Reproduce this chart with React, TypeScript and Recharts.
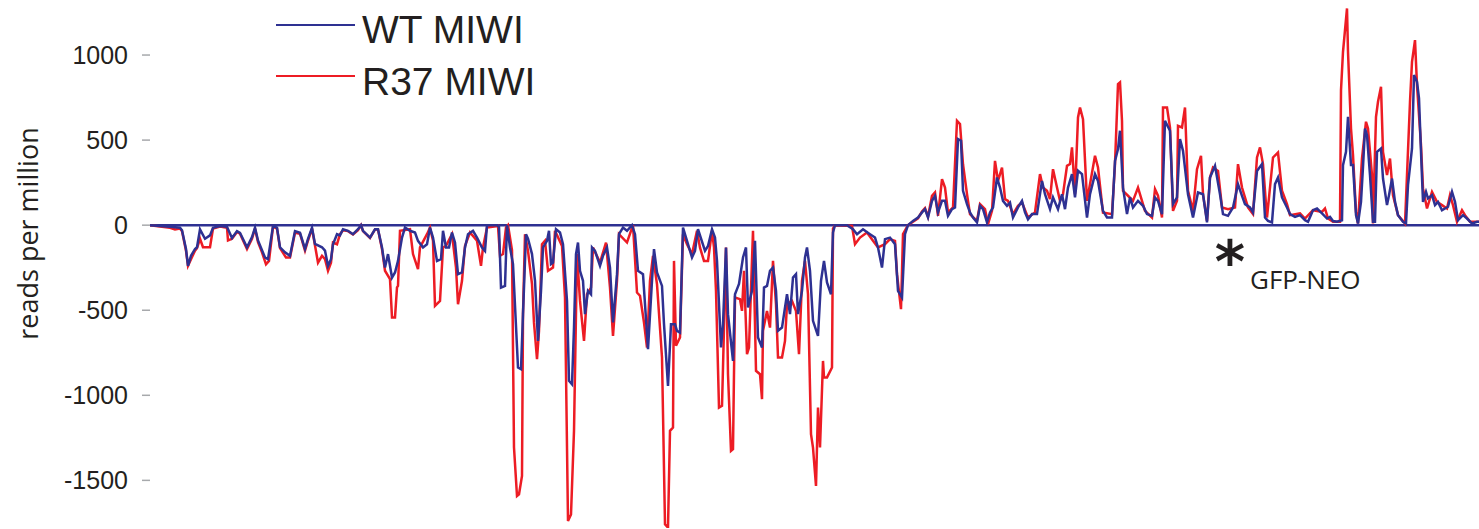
import { Legend, Line, LineChart, ReferenceLine, XAxis, YAxis } from 'recharts'

// [position bin, reads per million]; antisense reads are negative
const wtTrack: [number, number][] = [
  [150, 0], [160, -5], [170, -10], [180, -15], [182, -30], [186, -140], [188, -239], [191, -180], [195, -140], [197, -130],
  [200, -25], [205, -80], [210, -60], [213, -15], [220, -5], [227, -10], [232, -75], [237, -35], [240, -45], [247, -130],
  [252, -70], [255, -15], [258, -90], [265, -190], [268, -200], [273, -5], [277, -15], [280, -130], [285, -160], [290, -180],
  [295, -35], [300, -45], [305, -140], [308, -80], [312, -15], [315, -110], [322, -130], [325, -150], [328, -239], [331, -200],
  [333, -112], [337, -53], [340, -60], [343, -24], [348, -33], [353, -53], [358, -24], [361, 0], [363, -33], [370, -73],
  [375, -24], [378, -24], [382, -131], [385, -249], [388, -170], [392, -308], [395, -278], [398, -210], [402, -73], [405, -14],
  [410, -33], [415, -43], [418, -92], [423, -131], [427, -112], [430, -14], [433, -73], [437, -210], [441, -200], [443, -33],
  [446, -131], [449, -131], [452, -43], [455, -102], [458, -288], [462, -278], [465, -131], [468, -53], [473, -33], [477, -73],
  [482, -131], [485, -151], [487, 0], [497, 0], [499, -10], [501, -367], [505, -357], [507, 0], [510, -131], [513, -229],
  [518, -837], [521, -847], [523, -523], [526, -53], [528, -80], [532, -170], [535, -327], [538, -680], [541, -386], [543, -131],
  [547, -92], [549, -33], [551, -229], [553, -220], [556, -24], [560, -43], [563, -112], [567, -445], [569, -915], [572, -935],
  [574, -602], [576, -170], [578, -102], [580, -268], [583, -327], [585, -523], [588, -386], [591, -406], [592, -131], [595, -151],
  [600, -239], [603, -180], [607, -131], [610, -249], [613, -572], [617, -288], [619, -53], [623, -14], [627, -33], [632, 0],
  [635, -53], [638, -268], [643, -288], [648, -729], [652, -327], [654, -141], [657, -278], [662, -357], [664, -582], [668, -945],
  [671, -582], [675, -582], [677, -621], [680, -631], [683, -14], [687, -92], [692, -190], [695, -151], [698, -24], [705, -151],
  [708, -122], [712, -24], [715, -73], [717, -210], [721, -719], [723, -582], [726, -131], [728, -523], [733, -798], [735, -406],
  [737, -376], [739, -346], [743, -190], [746, -131], [748, -484], [752, -386], [755, -92], [758, -660], [762, -719], [764, -367],
  [767, -357], [770, -268], [773, -249], [776, -386], [778, -621], [782, -602], [787, -406], [790, -523], [793, -308], [796, -288],
  [798, -523], [802, -386], [805, -190], [807, -131], [810, -268], [813, -562], [818, -651], [821, -327], [824, -210], [827, -337],
  [831, -406], [833, -43], [835, 0], [847, 0], [853, -24], [857, -53], [863, -24], [870, -53], [875, -73], [878, -131],
  [882, -249], [885, -82], [890, -73], [895, -112], [898, -386], [902, -425], [905, -53], [908, 0], [913, 25], [918, 45],
  [922, 75], [925, 94], [928, 45], [932, 143], [935, 172], [938, 75], [942, 143], [945, 143], [948, 55], [952, 94],
  [955, 104], [958, 506], [961, 496], [963, 202], [967, 124], [970, 75], [973, 45], [977, 16], [980, 114], [983, 94],
  [987, 16], [990, 75], [993, 104], [997, 280], [1000, 221], [1003, 143], [1007, 114], [1010, 133], [1013, 45], [1018, 104],
  [1022, 143], [1025, 75], [1028, 35], [1032, 65], [1037, 65], [1042, 260], [1045, 182], [1050, 94], [1053, 163], [1058, 94],
  [1062, 182], [1065, 94], [1068, 221], [1072, 300], [1075, 163], [1078, 320], [1082, 300], [1087, 45], [1090, 182], [1095, 300],
  [1098, 260], [1103, 84], [1107, 45], [1112, 45], [1115, 378], [1118, 447], [1120, 555], [1123, 221], [1127, 65], [1130, 163],
  [1133, 104], [1138, 143], [1143, 114], [1147, 65], [1152, 55], [1155, 163], [1158, 143], [1162, 65], [1165, 613], [1170, 555],
  [1173, 124], [1177, 163], [1180, 506], [1183, 437], [1188, 182], [1193, 45], [1198, 192], [1203, 182], [1207, 16], [1210, 280],
  [1215, 349], [1220, 182], [1223, 65], [1228, 55], [1233, 104], [1238, 241], [1242, 172], [1245, 124], [1250, 104], [1253, 75],
  [1257, 319], [1262, 359], [1265, 45], [1268, 25], [1272, 16], [1275, 241], [1278, 280], [1282, 163], [1287, 104], [1290, 65],
  [1295, 49], [1300, 59], [1305, 29], [1308, 20], [1313, 88], [1317, 98], [1322, 69], [1327, 39], [1330, 49], [1333, 24],
  [1337, 20], [1342, 29], [1343, 353], [1346, 431], [1348, 637], [1351, 353], [1353, 353], [1356, 59], [1358, 10], [1361, 137],
  [1363, 343], [1365, 568], [1367, 529], [1370, 294], [1373, 20], [1375, 20], [1377, 431], [1381, 451], [1383, 274], [1387, 118],
  [1389, 176], [1392, 274], [1395, 137], [1398, 59], [1403, 20], [1406, 10], [1408, 235], [1412, 451], [1414, 882], [1417, 843],
  [1419, 745], [1421, 431], [1423, 137], [1426, 196], [1428, 157], [1432, 176], [1435, 118], [1438, 137], [1442, 88], [1445, 98],
  [1448, 108], [1452, 196], [1455, 137], [1458, 29], [1463, 59], [1467, 39], [1472, 10], [1477, 20], [1479, 20],
]

const r37Track: [number, number][] = [
  [150, 0], [160, -8], [170, -15], [175, -25], [180, -20], [182, -35], [186, -150], [188, -239], [191, -200], [195, -150],
  [197, -135], [200, -80], [203, -130], [210, -130], [213, -20], [220, -8], [227, -15], [228, -90], [232, -80], [237, -40],
  [240, -50], [247, -140], [252, -80], [255, -20], [258, -100], [262, -160], [266, -230], [269, -210], [273, -10], [277, -20],
  [280, -135], [286, -190], [290, -190], [295, -45], [300, -50], [305, -150], [308, -90], [312, -20], [315, -120], [318, -220],
  [322, -180], [325, -200], [328, -268], [331, -220], [333, -102], [337, -112], [340, -53], [343, -30], [348, -35], [353, -55],
  [358, -30], [361, 0], [363, -35], [370, -75], [375, -25], [378, -25], [382, -140], [385, -268], [390, -317], [392, -543],
  [395, -543], [397, -366], [398, -357], [400, -33], [410, -24], [413, -170], [418, -258], [420, -131], [427, -53], [430, -14],
  [433, -92], [435, -474], [440, -445], [443, -131], [446, -122], [452, -53], [456, -249], [458, -465], [462, -327], [465, -122],
  [470, -43], [477, -92], [481, -239], [483, -131], [487, -14], [498, -5], [500, -180], [503, -170], [506, -14], [508, 0],
  [512, -147], [514, -1307], [517, -1592], [519, -1582], [522, -1474], [523, -523], [525, -53], [528, -151], [532, -347], [534, -573],
  [537, -788], [539, -621], [542, -112], [545, -92], [548, -268], [553, -249], [555, -33], [562, -122], [565, -425], [568, -1739],
  [571, -1700], [574, -1209], [577, -170], [580, -445], [584, -680], [587, -406], [591, -367], [593, -131], [600, -220], [606, -102],
  [610, -367], [613, -651], [617, -327], [619, -53], [627, -102], [633, 0], [637, -396], [640, -415], [644, -572], [647, -719],
  [650, -327], [653, -180], [657, -347], [662, -778], [665, -1758], [668, -1778], [670, -1209], [673, -1189], [674, -210], [676, -709],
  [680, -660], [683, -53], [687, -112], [692, -170], [697, -33], [700, -132], [704, -210], [708, -210], [712, -33], [714, -131],
  [716, -386], [719, -1072], [722, -1062], [723, -837], [726, -131], [728, -876], [731, -1327], [733, -1317], [735, -425], [740, -435],
  [742, -504], [744, -268], [747, -758], [749, -719], [753, -33], [756, -856], [760, -876], [762, -1023], [763, -621], [767, -504],
  [770, -602], [773, -210], [776, -465], [778, -778], [782, -778], [785, -680], [787, -465], [792, -445], [796, -504], [799, -758],
  [802, -327], [805, -210], [808, -406], [811, -1229], [813, -1307], [816, -1533], [818, -1072], [820, -1307], [823, -798], [824, -895],
  [827, -895], [832, -837], [833, -20], [835, 0], [852, -5], [855, -112], [860, -73], [867, -43], [873, -92], [878, -131],
  [885, -112], [890, -82], [895, -92], [897, -288], [901, -494], [903, -53], [908, 0], [913, 20], [918, 40], [922, 80],
  [925, 100], [928, 50], [932, 172], [935, 192], [938, 55], [942, 270], [945, 221], [948, 75], [953, 104], [957, 613],
  [960, 594], [963, 358], [967, 182], [970, 65], [977, 25], [980, 124], [985, 94], [988, 6], [992, 84], [995, 378],
  [998, 260], [1002, 339], [1005, 153], [1008, 143], [1013, 65], [1018, 114], [1022, 133], [1028, 45], [1035, 75], [1040, 300],
  [1043, 221], [1047, 202], [1050, 153], [1053, 329], [1057, 221], [1060, 143], [1063, 182], [1067, 349], [1070, 359], [1072, 457],
  [1075, 182], [1078, 633], [1080, 692], [1083, 623], [1087, 143], [1090, 241], [1095, 408], [1098, 339], [1103, 74], [1112, 65],
  [1115, 359], [1118, 829], [1120, 839], [1122, 613], [1123, 202], [1128, 173], [1133, 143], [1138, 221], [1145, 84], [1152, 45],
  [1155, 212], [1158, 173], [1162, 45], [1163, 692], [1167, 692], [1170, 574], [1173, 84], [1177, 143], [1178, 584], [1182, 574],
  [1185, 692], [1188, 202], [1193, 84], [1197, 329], [1201, 408], [1203, 182], [1207, 25], [1210, 280], [1213, 339], [1218, 319],
  [1222, 104], [1228, 94], [1235, 104], [1238, 359], [1242, 221], [1248, 104], [1253, 65], [1257, 398], [1260, 457], [1263, 359],
  [1267, 45], [1273, 398], [1278, 427], [1282, 202], [1287, 124], [1290, 59], [1300, 69], [1305, 39], [1313, 88], [1322, 78],
  [1325, 98], [1328, 39], [1333, 20], [1340, 20], [1341, 794], [1343, 1019], [1347, 1274], [1348, 1019], [1351, 568], [1353, 412],
  [1356, 78], [1358, 10], [1362, 392], [1366, 608], [1368, 568], [1372, 294], [1373, 10], [1376, 637], [1378, 725], [1381, 813],
  [1383, 431], [1387, 294], [1390, 392], [1393, 176], [1398, 59], [1405, 10], [1407, 294], [1410, 725], [1412, 960], [1415, 1088],
  [1417, 823], [1421, 470], [1423, 216], [1427, 98], [1432, 196], [1437, 137], [1442, 118], [1447, 98], [1450, 176], [1453, 118],
  [1457, 20], [1462, 88], [1465, 59], [1470, 20], [1477, 20], [1479, 20],
]

const yTicks = [-1500, -1000, -500, 0, 500, 1000]
const xDomain: [number, number] = [150, 1479]
const yDomain: [number, number] = [-1780, 1300]

const series = [
  { name: 'WT MIWI', color: '#2e3192', track: wtTrack },
  { name: 'R37 MIWI', color: '#ed1c24', track: r37Track },
]

const toRows = (track: [number, number][]) => track.map(([pos, reads]) => ({ pos, reads }))

const sans = '"Liberation Sans", Arial, sans-serif'
const humanist = '"Open Sans", "Noto Sans", sans-serif'

function TrackLegend() {
  return (
    <div style={{ position: 'relative', width: 300, height: 110 }}>
      {series.map((s, i) => (
        <div key={s.name}>
          <div style={{ position: 'absolute', left: 0, top: 24 + i * 51, width: 79, height: 2, background: s.color }} />
          <div style={{ position: 'absolute', left: 86, top: 10 + i * 52, fontFamily: sans, fontSize: 39, lineHeight: '39px', color: '#231f20', whiteSpace: 'nowrap' }}>{s.name}</div>
        </div>
      ))}
    </div>
  )
}

export default function App() {
  return (
    <div style={{ position: 'absolute', left: 0, top: 0, width: 1479, height: 529, background: '#fff', overflow: 'hidden' }}>
      <LineChart width={1479} height={529} margin={{ top: 4, right: 0, bottom: 1, left: 0 }}>
        <XAxis type="number" dataKey="pos" domain={xDomain} hide allowDataOverflow />
        <YAxis
          type="number"
          domain={yDomain}
          ticks={yTicks}
          width={150}
          axisLine={false}
          tickSize={8}
          tickMargin={14}
          tickLine={{ stroke: '#a7a9ac', strokeWidth: 1.5 }}
          tick={{ fill: '#231f20', fontSize: 25, fontFamily: sans }}
          allowDataOverflow
        />
        <ReferenceLine y={0} stroke="#2e3192" strokeWidth={2.5} />
        {[...series].reverse().map((s) => (
          <Line key={s.name} name={s.name} data={toRows(s.track)} dataKey="reads" type="linear" stroke={s.color} strokeWidth={2.5} dot={false} activeDot={false} isAnimationActive={false} />
        ))}
        <Legend layout="horizontal" verticalAlign="middle" align="center" content={<TrackLegend />} wrapperStyle={{ left: 276, top: 0, width: 300, height: 110 }} />
      </LineChart>
      <div style={{ position: 'absolute', left: -123, top: 220, width: 300, height: 27, textAlign: 'center', fontFamily: humanist, fontSize: 27, lineHeight: '27px', color: '#231f20', transform: 'rotate(-90deg)', whiteSpace: 'nowrap' }}>reads per million</div>
      <div style={{ position: 'absolute', left: 1200, top: 233, width: 60, textAlign: 'center', fontFamily: '"DejaVu Sans", sans-serif', fontWeight: 700, fontSize: 58, lineHeight: '58px', color: '#231f20' }}>*</div>
      <div style={{ position: 'absolute', left: 1250, top: 266, fontFamily: humanist, fontSize: 26, lineHeight: '26px', color: '#231f20', whiteSpace: 'nowrap' }}>GFP-NEO</div>
    </div>
  )
}
